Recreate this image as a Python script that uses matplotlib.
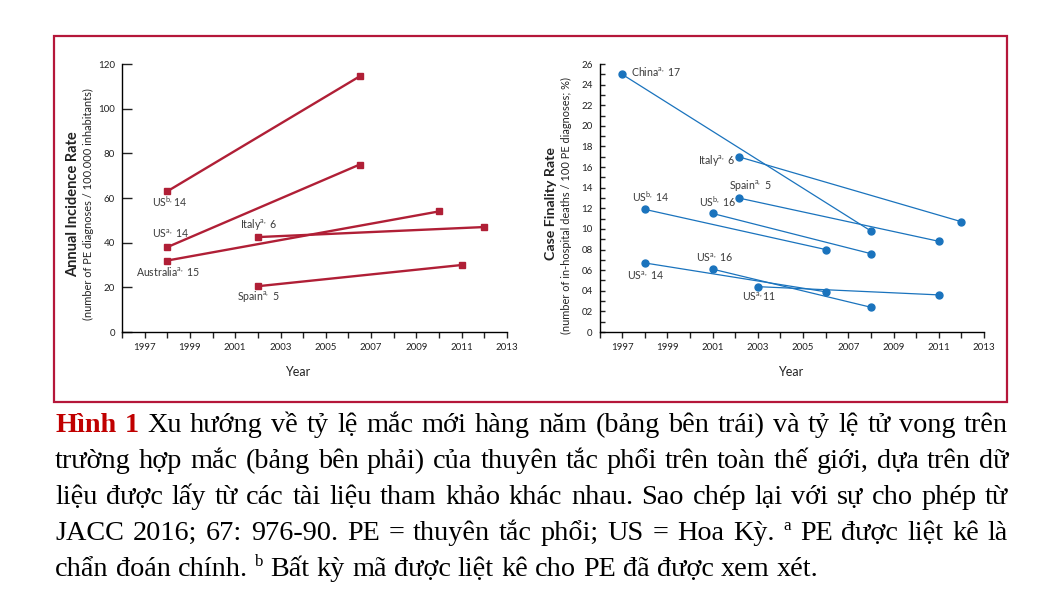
#!/usr/bin/env python3
"""Recreate the two-panel PE incidence / case fatality figure with its Vietnamese caption."""
import matplotlib
matplotlib.use("Agg")
import matplotlib.pyplot as plt
from matplotlib.patches import Rectangle

plt.rcParams['font.family'] = ['Lato', 'DejaVu Sans']
plt.rcParams['mathtext.default'] = 'regular'

# ---- data: left panel (annual incidence, per 100.000) ----
inc_names = ["US$^{b,}$14", "US$^{a,}$ 14", "Australia$^{a,}$ 15", "Italy$^{a,}$ 6", "Spain$^{a,}$ 5"]
inc_years = [[1998, 2006.5], [1998, 2006.5], [1998, 2010], [2002, 2012], [2002, 2011]]
inc_values = [[63, 114.5], [38, 75], [32, 54], [42.5, 47], [20.5, 30]]

# ---- data: right panel (case fatality, %) ----
cfr_names = ["China$^{a,}$ 17", "Italy$^{a,}$ 6", "Spain$^{a,}$ 5", "US$^{b,}$ 14", "US$^{b,}$ 16",
             "US$^{a,}$ 16", "US$^{a,}$ 14", "US$^{a,}$11"]
cfr_years = [[1997, 2008], [2002.15, 2012], [2002.15, 2011], [1998, 2006], [2001, 2008],
             [2001, 2008], [1998, 2006], [2003, 2011]]
cfr_values = [[25, 9.8], [17, 10.7], [13, 8.8], [11.9, 8.0], [11.5, 7.6],
              [6.1, 2.4], [6.7, 3.9], [4.4, 3.6]]

year_ticks = list(range(1996, 2014))
year_labels = ["" if y % 2 == 0 else str(y) for y in year_ticks]
inc_yticks = [0, 20, 40, 60, 80, 100, 120]
cfr_yticks = list(range(0, 27, 2))
cfr_ylabels = ["0", "02", "04", "06", "08", "10", "12", "14", "16", "18", "20", "22", "24", "26"]

caption_lines = [
    "Hình 1 Xu hướng về tỷ lệ mắc mới hàng năm (bảng bên trái) và tỷ lệ tử vong trên",
    "trường hợp mắc (bảng bên phải) của thuyên tắc phổi trên toàn thế giới, dựa trên dữ",
    "liệu được lấy từ các tài liệu tham khảo khác nhau. Sao chép lại với sự cho phép từ",
    "JACC 2016; 67: 976-90. PE = thuyên tắc phổi; US = Hoa Kỳ. ^a PE được liệt kê là",
    "chẩn đoán chính. ^b Bất kỳ mã được liệt kê cho PE đã được xem xét.",
]

RED = "#b01f36"
BLUE = "#1a73bd"
LABEL = "#3a3a3a"
W, H = 1052, 607


def fx(px):
    return px / W


def fy(py):
    return 1 - py / H


fig = plt.figure(figsize=(W / 100, H / 100), dpi=100)

# frame around the two panels
fig.patches.append(Rectangle((fx(54), fy(402)), fx(1007) - fx(54), fy(36) - fy(402),
                             transform=fig.transFigure, fill=False, edgecolor="#b5173a",
                             linewidth=1.6))

ax1 = fig.add_axes([fx(122), fy(332), fx(507) - fx(122), fy(64) - fy(332)])
ax2 = fig.add_axes([fx(599.5), fy(332), fx(984) - fx(599.5), fy(64) - fy(332)])

for ax in (ax1, ax2):
    ax.set_facecolor("none")
    for s in ("top", "right"):
        ax.spines[s].set_visible(False)
    for s in ("left", "bottom"):
        ax.spines[s].set_linewidth(1.0)
    ax.set_xlim(1996, 2013)
    ax.set_xticks(year_ticks)
    ax.set_xticklabels(year_labels)
    ax.tick_params(axis="x", direction="out", length=4, width=1, pad=4,
                   labelsize=7, colors="#222222")
    ax.set_xlabel("Year", fontsize=9, color="#222222")

# "Year" titles sit at slightly different spots in the two panels
ax1.xaxis.set_label_coords(0.457, -0.125)
ax2.xaxis.set_label_coords(0.498, -0.125)

# left panel
for name, xs, ys in zip(inc_names, inc_years, inc_values):
    ax1.plot(xs, ys, color=RED, linewidth=1.7, marker="s", markersize=5, clip_on=False)
ax1.set_ylim(0, 120)
ax1.set_yticks(inc_yticks)
ax1.tick_params(axis="y", direction="in", length=7, width=1, pad=5, labelsize=7,
                colors="#222222")

inc_label_xy = [(1997.33, 58.5), (1997.33, 44), (1996.63, 27.2), (2001.2, 48), (2001.08, 16)]
for name, (x, y) in zip(inc_names, inc_label_xy):
    ax1.text(x, y, name, fontsize=7.6, color=LABEL, ha="left", va="center")

# right panel
for name, xs, ys in zip(cfr_names, cfr_years, cfr_values):
    ax2.plot(xs, ys, color=BLUE, linewidth=0.9, marker="o", markersize=5, clip_on=False)
ax2.set_ylim(0, 26)
ax2.set_yticks(list(range(0, 27)), minor=True)
ax2.set_yticks(cfr_yticks)
ax2.set_yticklabels(cfr_ylabels)
ax2.tick_params(axis="y", which="both", direction="in", length=3.5, width=1, pad=5,
                labelsize=7, colors="#222222")

cfr_label_xy = [(1997.4, 25.3), (2000.34, 16.6), (2001.73, 14.24), (1997.43, 13.14),
                (2000.39, 12.62), (2000.26, 7.18), (1997.2, 5.44), (2002.29, 3.43)]
for name, (x, y) in zip(cfr_names, cfr_label_xy):
    ax2.text(x, y, name, fontsize=7.6, color=LABEL, ha="left", va="center")

# y axis titles (two lines each)
fig.text(fx(73), fy(204), "Annual Incidence Rate", rotation=90, fontsize=10.5,
         fontweight="bold", color="#222222", ha="center", va="center")
fig.text(fx(88), fy(204), "(number of PE diagnoses / 100.000 inhabitants)", rotation=90,
         fontsize=7.9, color="#222222", ha="center", va="center")
fig.text(fx(551), fy(204), "Case Finality Rate", rotation=90, fontsize=10.2,
         fontweight="bold", color="#222222", ha="center", va="center")
fig.text(fx(566), fy(205), "(number of in-hospital deaths / 100 PE diagnoses; %)", rotation=90,
         fontsize=7.9, color="#222222", ha="center", va="center")

# caption, justified between the frame edges
serif = ["Liberation Serif", "DejaVu Serif"]
cap_size = 20.3
left, right = 55, 1008
baselines = [432, 468, 504, 540, 576]
renderer = fig.canvas.get_renderer()
helpers = []

for li, line in enumerate(caption_lines):
    words = line.split(" ")
    items = []
    for wi, w in enumerate(words):
        sup = w.startswith("^")
        bold = li == 0 and wi < 2
        t = fig.text(0, 0, w[1:] if sup else w, family=serif,
                     fontsize=cap_size * (0.6 if sup else 1.0),
                     fontweight="bold" if bold else "normal",
                     color="#c00000" if bold else "black", va="baseline", ha="left")
        items.append((t, sup))
    widths = [t.get_window_extent(renderer).width for t, _ in items]
    h1 = fig.text(0, 0, "a b", family=serif, fontsize=cap_size)
    h2 = fig.text(0, 0, "ab", family=serif, fontsize=cap_size)
    helpers += [h1, h2]
    space = h1.get_window_extent(renderer).width - h2.get_window_extent(renderer).width
    if li < len(caption_lines) - 1:
        gap = (right - left - sum(widths)) / (len(items) - 1)
    else:
        gap = space
    x = left
    for (t, sup), w in zip(items, widths):
        y = baselines[li] - (10 if sup else 0)
        t.set_position((fx(x), fy(y)))
        x += w + gap

for t in helpers:
    t.remove()

fig.savefig("out.png", dpi=100)
